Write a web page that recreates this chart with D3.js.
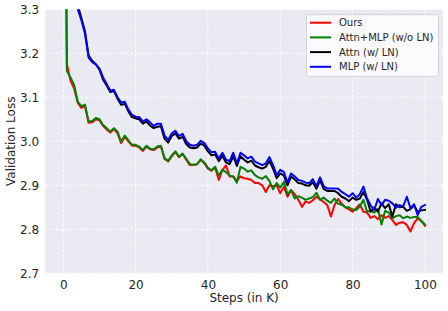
<!DOCTYPE html>
<html lang="en">
<head>
<meta charset="UTF-8">
<title>Validation Loss</title>
<style>
  body { margin: 0; background: #fff; }
  svg text { font-family: "DejaVu Sans", sans-serif; fill: #262626; }
</style>
</head>
<body>
<div id="chart"></div>
<script src="https://cdnjs.cloudflare.com/ajax/libs/d3/7.8.5/d3.min.js"></script>
<script>
// steps in K, 0..100
const steps = d3.range(0, 101);

const ours = [4.2,
  3.175, 3.138, 3.12, 3.088, 3.076, 3.08, 3.042, 3.043, 3.05, 3.048,
  3.035, 3.027, 3.02, 3.028, 3.018, 2.996, 3.01, 3.0, 2.99, 2.99,
  2.986, 2.978, 2.988, 2.982, 2.98, 2.986, 2.988, 2.96, 2.954, 2.966,
  2.976, 2.964, 2.971, 2.958, 2.946, 2.946, 2.948, 2.958, 2.95, 2.938,
  2.933, 2.94, 2.912, 2.935, 2.945, 2.92, 2.92, 2.91, 2.92, 2.916,
  2.915, 2.912, 2.905, 2.905, 2.9, 2.885, 2.9, 2.898, 2.9, 2.882,
  2.897, 2.874, 2.889, 2.88, 2.867, 2.851, 2.863, 2.86, 2.866, 2.874,
  2.868, 2.862, 2.855, 2.829, 2.855, 2.869, 2.858, 2.85, 2.845, 2.84,
  2.848, 2.857, 2.84, 2.838, 2.826, 2.83, 2.823, 2.832, 2.826, 2.83,
  2.821, 2.81, 2.815, 2.816, 2.81, 2.795, 2.814, 2.825, 2.82, 2.808];

const attnMlpNoLN = [4.2,
  3.16, 3.145, 3.128, 3.09, 3.08, 3.083, 3.045, 3.046, 3.053, 3.05,
  3.037, 3.03, 3.022, 3.03, 3.022, 2.999, 3.013, 3.002, 2.992, 2.992,
  2.988, 2.98, 2.99, 2.983, 2.982, 2.988, 2.99, 2.962, 2.955, 2.968,
  2.977, 2.965, 2.972, 2.96, 2.948, 2.947, 2.948, 2.959, 2.952, 2.94,
  2.934, 2.942, 2.922, 2.935, 2.93, 2.922, 2.92, 2.906, 2.942, 2.938,
  2.931, 2.934, 2.923, 2.918, 2.915, 2.921, 2.91, 2.891, 2.905, 2.895,
  2.908, 2.88, 2.889, 2.87, 2.875, 2.872, 2.867, 2.87, 2.873, 2.883,
  2.867, 2.872, 2.865, 2.86, 2.87, 2.858, 2.856, 2.85, 2.85, 2.845,
  2.844, 2.852, 2.867, 2.84, 2.842, 2.838, 2.846, 2.811, 2.842, 2.838,
  2.825, 2.83, 2.832, 2.825, 2.829, 2.826, 2.828, 2.828, 2.818, 2.811];

const attnLN = [4.6,
  4.1, 3.75, 3.46, 3.31, 3.28, 3.25, 3.195, 3.183, 3.175, 3.163,
  3.14, 3.127, 3.112, 3.114, 3.097, 3.083, 3.085, 3.068, 3.055, 3.052,
  3.05, 3.04, 3.045, 3.036, 3.03, 3.033, 3.034, 3.006, 2.997, 3.012,
  3.018, 3.006, 3.01, 2.994, 2.986, 2.984, 2.986, 2.995, 2.99, 2.977,
  2.968, 2.97, 2.955, 2.967, 2.952, 2.948, 2.966, 2.944, 2.966, 2.958,
  2.952, 2.956, 2.945, 2.941, 2.938, 2.942, 2.955, 2.938, 2.916, 2.927,
  2.922, 2.9, 2.92, 2.913, 2.905, 2.904, 2.9, 2.899, 2.907, 2.892,
  2.911, 2.892, 2.887, 2.887, 2.887, 2.882, 2.874, 2.87, 2.864, 2.872,
  2.867, 2.87, 2.885, 2.867, 2.84, 2.85, 2.84, 2.859, 2.848, 2.857,
  2.829, 2.857, 2.85, 2.851, 2.842, 2.846, 2.854, 2.84, 2.843, 2.844];

const mlpLN = [4.6,
  4.1, 3.75, 3.45, 3.3, 3.275, 3.245, 3.19, 3.18, 3.175, 3.165,
  3.145, 3.13, 3.115, 3.117, 3.1, 3.088, 3.09, 3.072, 3.06, 3.056,
  3.055, 3.045, 3.05, 3.043, 3.035, 3.04, 3.04, 3.013, 3.003, 3.018,
  3.024, 3.012, 3.017, 3.0, 2.992, 2.99, 2.992, 3.001, 2.996, 2.984,
  2.975, 2.976, 2.961, 2.974, 2.958, 2.955, 2.974, 2.95, 2.974, 2.968,
  2.961, 2.965, 2.954, 2.95, 2.946, 2.95, 2.964, 2.946, 2.923, 2.935,
  2.93, 2.906, 2.927, 2.92, 2.912, 2.91, 2.906, 2.905, 2.914, 2.898,
  2.918, 2.898, 2.893, 2.893, 2.893, 2.892, 2.885, 2.88, 2.874, 2.882,
  2.872, 2.88, 2.897, 2.87, 2.854, 2.844, 2.869, 2.855, 2.867, 2.865,
  2.859, 2.849, 2.855, 2.852, 2.874, 2.848, 2.857, 2.832, 2.851, 2.855];

const seriesNames = ["Ours", "Attn+MLP (w/o LN)", "Attn (w/ LN)", "MLP (w/ LN)"];
const seriesColors = ["#ff0000", "#008000", "#000000", "#0000ff"];
const seriesValues = [ours, attnMlpNoLN, attnLN, mlpLN];

const xTicks = [0, 20, 40, 60, 80, 100];
const yTicks = [2.7, 2.8, 2.9, 3.0, 3.1, 3.2, 3.3];

const W = 448, H = 311;
const margin = { top: 9.3, right: 5, bottom: 37.7, left: 45.2 };
const width = W - margin.left - margin.right;
const height = H - margin.top - margin.bottom;

const svg = d3.select("#chart").append("svg")
  .attr("width", W).attr("height", H);

const g = svg.append("g")
  .attr("transform", `translate(${margin.left},${margin.top})`);

const x = d3.scaleLinear().domain([-5, 105]).range([0, width]);
const y = d3.scaleLinear().domain([2.7, 3.3]).range([height, 0]);

g.append("rect")
  .attr("width", width).attr("height", height)
  .attr("fill", "#eaeaf2");

// grid
g.append("g").selectAll("line").data(xTicks).join("line")
  .attr("x1", d => x(d)).attr("x2", d => x(d))
  .attr("y1", 0).attr("y2", height)
  .attr("stroke", "#fff").attr("stroke-width", 1)
  .attr("stroke-dasharray", "3,2");
g.append("g").selectAll("line").data(yTicks).join("line")
  .attr("x1", 0).attr("x2", width)
  .attr("y1", d => y(d)).attr("y2", d => y(d))
  .attr("stroke", "#fff").attr("stroke-width", 1)
  .attr("stroke-dasharray", "3,2");

// axes (no tick marks, seaborn darkgrid style)
const xAxis = g.append("g")
  .attr("transform", `translate(0,${height})`)
  .call(d3.axisBottom(x).tickValues(xTicks).tickSize(0).tickPadding(7.5));
const yAxis = g.append("g")
  .call(d3.axisLeft(y).tickValues(yTicks).tickFormat(d3.format(".1f")).tickSize(0).tickPadding(6));
[xAxis, yAxis].forEach(a => {
  a.select(".domain").remove();
  a.selectAll("text").attr("font-size", 12).attr("font-family", "DejaVu Sans").attr("fill", "#262626");
});

g.append("text")
  .attr("x", width / 2).attr("y", height + 29.2)
  .attr("text-anchor", "middle").attr("font-size", 12)
  .text("Steps (in K)");

g.append("text")
  .attr("transform", `translate(${15 - margin.left},${height / 2}) rotate(-90)`)
  .attr("text-anchor", "middle").attr("font-size", 12)
  .text("Validation Loss");

// lines
g.append("clipPath").attr("id", "clip")
  .append("rect").attr("width", width).attr("height", height);

const line = d3.line()
  .x((d, i) => x(steps[i]))
  .y(d => y(d));

g.append("g").attr("clip-path", "url(#clip)")
  .selectAll("path").data(seriesValues).join("path")
  .attr("d", d => line(d))
  .attr("fill", "none")
  .attr("stroke", (d, i) => seriesColors[i])
  .attr("stroke-width", 2)
  .attr("stroke-linejoin", "round")
  .attr("stroke-linecap", "square");

// legend
const lg = svg.append("g").attr("transform", "translate(306.5,14.7)");
lg.append("rect")
  .attr("width", 132).attr("height", 61.6).attr("rx", 2.5)
  .attr("fill", "#fff").attr("fill-opacity", 0.8)
  .attr("stroke", "#cccccc").attr("stroke-opacity", 0.8);
const items = lg.selectAll("g.item").data(seriesNames).join("g")
  .attr("class", "item")
  .attr("transform", (d, i) => `translate(0,${8 + i * 14.7})`);
items.append("line")
  .attr("x1", 3.5).attr("x2", 24.5)
  .attr("stroke", (d, i) => seriesColors[i]).attr("stroke-width", 2);
items.append("text")
  .attr("x", 32.5).attr("y", 3.6)
  .attr("font-size", 10)
  .text(d => d);
</script>
</body>
</html>
